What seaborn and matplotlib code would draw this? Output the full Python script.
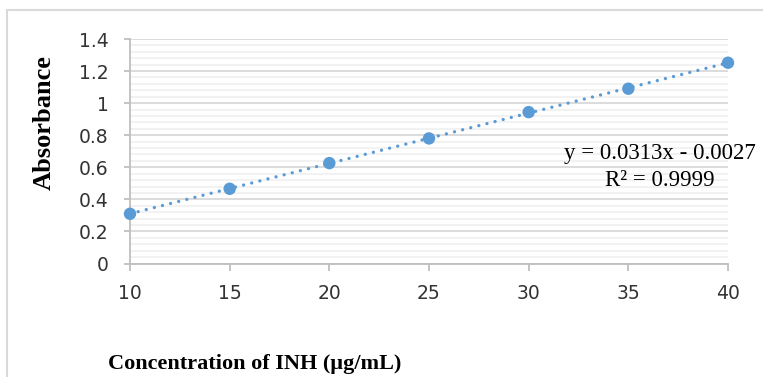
import numpy as np
import pandas as pd
import seaborn as sns
import matplotlib.pyplot as plt
from matplotlib.lines import Line2D
from matplotlib.ticker import MultipleLocator

# Calibration data
concentration = [10, 15, 20, 25, 30, 35, 40]
absorbance = [0.310, 0.466, 0.626, 0.780, 0.944, 1.090, 1.252]
equation_text = 'y = 0.0313x - 0.0027'
r2_text = 'R² = 0.9999'

df = pd.DataFrame({'conc': concentration, 'abs': absorbance})

sns.set_style('white')
plt.rcParams['font.family'] = ['DejaVu Sans']

blue = '#5B9BD5'

fig = plt.figure(figsize=(7.63, 3.77), dpi=100)
ax = fig.add_axes([130 / 763, 1 - 263.5 / 377, 598 / 763, 224.5 / 377])

# points plus dotted linear trendline
sns.regplot(data=df, x='conc', y='abs', ax=ax, ci=None,
            scatter_kws={'s': 80, 'color': blue, 'edgecolor': 'none', 'alpha': 1,
                         'zorder': 4, 'clip_on': False},
            line_kws={'color': blue, 'linewidth': 2.4, 'linestyle': (0, (0.01, 2.5)),
                      'dash_capstyle': 'round', 'zorder': 3})

ax.set_xlim(10, 40)
ax.set_ylim(0, 1.4)
ax.xaxis.set_major_locator(MultipleLocator(5))
ax.yaxis.set_major_locator(MultipleLocator(0.2))
ax.yaxis.set_minor_locator(MultipleLocator(0.04))
ax.set_yticks(np.arange(0, 1.41, 0.2))
ax.set_yticklabels(['0', '0.2', '0.4', '0.6', '0.8', '1', '1.2', '1.4'])

ax.grid(axis='y', which='major', color='#d9d9d9', linewidth=1.3, zorder=0)
ax.grid(axis='y', which='minor', color='#efefef', linewidth=1.1, zorder=0)
ax.set_axisbelow(True)

for side in ['top', 'right']:
    ax.spines[side].set_visible(False)
for side in ['left', 'bottom']:
    ax.spines[side].set_color('#bfbfbf')
    ax.spines[side].set_linewidth(1.3)

ax.tick_params(axis='x', which='major', direction='out', length=5, width=1.3,
               color='#bfbfbf', labelsize=13.5, labelcolor='#333333', pad=10, bottom=True)
ax.tick_params(axis='y', which='major', direction='out', length=4.5, width=1.3,
               color='#bfbfbf', labelsize=13.5, labelcolor='#333333', pad=11, left=True)
ax.tick_params(axis='y', which='minor', length=0)

ax.set_xlabel('')
ax.set_ylabel('')

# axis titles
fig.text(44 / 763, 1 - 122.5 / 377, 'Absorbance', rotation=90, ha='center', va='center',
         family='Liberation Serif', fontweight='bold', fontsize=19, color='black')
fig.text(108 / 763, 1 - 369 / 377, 'Concentration of INH (µg/mL)', ha='left', va='baseline',
         family='Liberation Serif', fontweight='bold', fontsize=16, color='black')

# trendline equation
fig.text(660 / 763, 1 - 159 / 377, equation_text, ha='center', va='baseline',
         family='Liberation Serif', fontsize=16.5, color='black')
fig.text(660 / 763, 1 - 185.5 / 377, r2_text, ha='center', va='baseline',
         family='Liberation Serif', fontsize=16.5, color='black')

# chart area border
fig.add_artist(Line2D([7 / 763, 7 / 763], [0, 1 - 9.5 / 377], transform=fig.transFigure,
                      color='#d9d9d9', linewidth=1.5))
fig.add_artist(Line2D([7 / 763, 1], [1 - 9.5 / 377, 1 - 9.5 / 377], transform=fig.transFigure,
                      color='#d9d9d9', linewidth=1.5))

fig.savefig('out.png', dpi=100)
